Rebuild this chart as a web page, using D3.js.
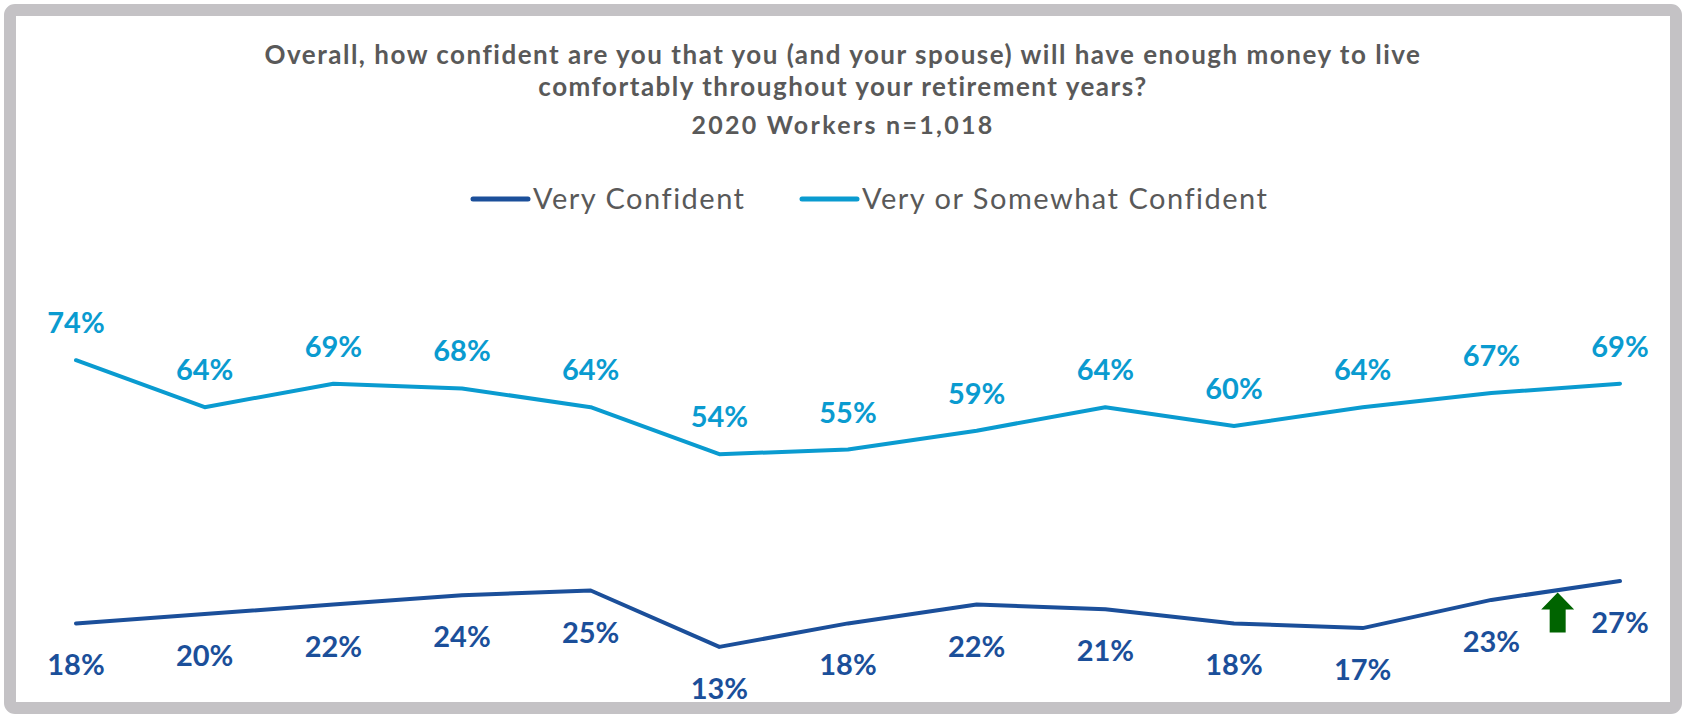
<!DOCTYPE html>
<html>
<head>
<meta charset="utf-8">
<script src="https://cdn.jsdelivr.net/npm/d3@7"></script>
<style>
  body { margin: 0; background: #ffffff; }
  svg text { font-family: 'Century Gothic', Lato, 'Open Sans', sans-serif; }
</style>
</head>
<body>
<div id="chart"></div>
<script>
// survey years (not shown as an axis in the original)
var years = ["2008", "2009", "2010", "2011", "2012", "2013", "2014",
             "2015", "2016", "2017", "2018", "2019", "2020"];
var veryConfident = [18, 20, 22, 24, 25, 13, 18, 22, 21, 18, 17, 23, 27];
var veryOrSomewhat = [74, 64, 69, 68, 64, 54, 55, 59, 64, 60, 64, 67, 69];
var seriesNames = ["Very Confident", "Very or Somewhat Confident"];
var titleLines = ["Overall, how confident are you that you (and your spouse) will have enough money to live",
                  "comfortably throughout your retirement years?"];
var subtitle = "2020 Workers n=1,018";

function LineChart(id){

    d3.select(id).select("svg").remove();

    var W = 1683, H = 715;
    var dark = "#1b4f9a", light = "#0a9bd0", grey = "#595959";

    var svg = d3.select(id)
                .append("svg")
                .attr("width", W)
                .attr("height", H);

    // grey frame
    svg.append("rect")
        .attr("x", 10).attr("y", 10)
        .attr("width", 1666).attr("height", 698)
        .attr("rx", 5)
        .attr("fill", "#ffffff")
        .attr("stroke", "#c4c2c5")
        .attr("stroke-width", 12);

    // title
    svg.selectAll(".title")
        .data(titleLines)
        .enter()
        .append("text")
        .attr("class", "title")
        .attr("x", 843)
        .attr("y", function(d, i){ return 64 + i * 32; })
        .attr("text-anchor", "middle")
        .style("font-size", "26px")
        .style("letter-spacing", "1.5px")
        .style("font-weight", "bold")
        .style("fill", grey)
        .text(function(d){ return d; });

    svg.append("text")
        .attr("x", 843)
        .attr("y", 134)
        .attr("text-anchor", "middle")
        .style("font-size", "25px")
        .style("letter-spacing", "2.3px")
        .style("font-weight", "bold")
        .style("fill", grey)
        .text(subtitle);

    // scales
    var x = d3.scalePoint()
                .domain(years)
                .range([76, 1620]);
    var y = d3.scaleLinear()
                .domain([0, 100])
                .range([708, 238]);

    var series = [
        {name: seriesNames[0], values: veryConfident, color: dark, dy: 52},
        {name: seriesNames[1], values: veryOrSomewhat, color: light, dy: -27}
    ];

    // legend
    var legendX = [473, 802];
    var legend = svg.selectAll(".legend")
        .data(series)
        .enter()
        .append("g")
        .attr("class", "legend")
        .attr("transform", function(d, i){ return "translate(" + legendX[i] + ",199)"; });
    legend.append("line")
        .attr("x1", 0).attr("x2", 55)
        .attr("stroke", function(d){ return d.color; })
        .attr("stroke-width", 5)
        .attr("stroke-linecap", "round");
    legend.append("text")
        .attr("x", 60)
        .attr("y", 10)
        .style("font-size", "29px")
        .style("letter-spacing", "1.5px")
        .style("fill", grey)
        .text(function(d){ return d.name; });

    var line = d3.line()
                .x(function(d, i){ return x(years[i]); })
                .y(function(d){ return y(d); });

    svg.selectAll(".series")
        .data(series)
        .enter()
        .append("path")
        .attr("class", "series")
        .attr("d", function(d){ return line(d.values); })
        .attr("fill", "none")
        .attr("stroke", function(d){ return d.color; })
        .attr("stroke-width", 4)
        .attr("stroke-linecap", "round")
        .attr("stroke-linejoin", "round");

    // data labels
    series.forEach(function(s){
        svg.selectAll(null)
            .data(s.values)
            .enter()
            .append("text")
            .attr("x", function(d, i){ return x(years[i]); })
            .attr("y", function(d){ return y(d) + s.dy; })
            .attr("text-anchor", "middle")
            .style("font-size", "29px")
            .style("font-weight", "bold")
            .style("fill", s.color)
            .text(function(d){ return d + "%"; });
    });

    // green up arrow between 2019 and 2020 on the Very Confident line
    var n = years.length;
    var ax = (x(years[n - 2]) + x(years[n - 1])) / 2 + 2;
    var ay = y((veryConfident[n - 2] + veryConfident[n - 1]) / 2) + 2;
    svg.append("path")
        .attr("d", "M" + ax + "," + ay +
                   "L" + (ax + 16.5) + "," + (ay + 17) +
                   "L" + (ax + 8) + "," + (ay + 17) +
                   "L" + (ax + 8) + "," + (ay + 40) +
                   "L" + (ax - 8) + "," + (ay + 40) +
                   "L" + (ax - 8) + "," + (ay + 17) +
                   "L" + (ax - 16.5) + "," + (ay + 17) + "Z")
        .attr("fill", "#006400");
}

LineChart("#chart");
</script>
</body>
</html>
